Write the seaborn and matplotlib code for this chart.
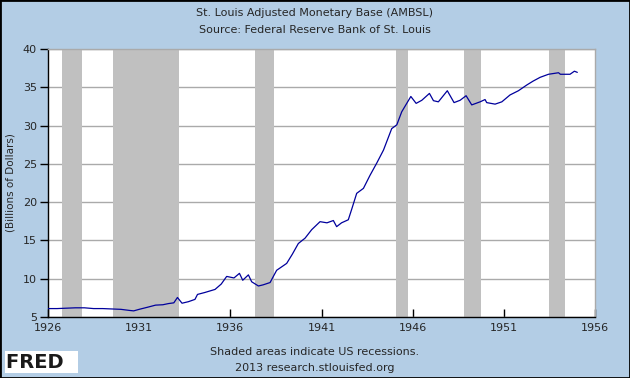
import numpy as np
import pandas as pd
import matplotlib
matplotlib.use("Agg")
import matplotlib.pyplot as plt
import seaborn as sns

# --- Données (année décimale, milliards de $) ---
annees = [1926.0, 1926.5, 1927.0, 1927.5, 1928.0, 1928.5, 1929.0, 1929.5, 1930.0, 1930.5,
          1930.7, 1931.0, 1931.5, 1931.9, 1932.3, 1932.6, 1932.9, 1933.1, 1933.35, 1933.7,
          1934.06, 1934.2, 1934.6, 1935.16, 1935.5, 1935.8, 1936.2, 1936.5, 1936.68, 1936.99,
          1937.17, 1937.54, 1937.8, 1938.18, 1938.54, 1939.09, 1939.4, 1939.73, 1940.1, 1940.46,
          1940.92, 1941.3, 1941.65, 1941.83, 1942.1, 1942.47, 1942.66, 1942.93, 1943.3, 1943.66,
          1944.03, 1944.4, 1944.85, 1945.13, 1945.4, 1945.9, 1946.19, 1946.5, 1946.92, 1947.14,
          1947.41, 1947.9, 1948.27, 1948.6, 1948.93, 1949.24, 1949.7, 1949.97, 1950.06, 1950.52,
          1950.89, 1951.34, 1951.8, 1952.26, 1952.6, 1952.99, 1953.45, 1954.0, 1954.1, 1954.63,
          1954.87, 1955.03]
ambsl = [6.1, 6.1, 6.15, 6.2, 6.2, 6.1, 6.1, 6.05, 6.0, 5.85,
         5.8, 6.0, 6.3, 6.55, 6.6, 6.75, 6.85, 7.55, 6.8, 7.0,
         7.3, 7.95, 8.2, 8.6, 9.3, 10.3, 10.1, 10.7, 9.8, 10.5,
         9.6, 9.05, 9.2, 9.5, 11.1, 12.0, 13.2, 14.6, 15.3, 16.4,
         17.45, 17.3, 17.6, 16.8, 17.3, 17.7, 19.1, 21.15, 21.8, 23.5,
         25.1, 26.8, 29.6, 30.1, 31.8, 33.8, 32.9, 33.3, 34.2, 33.25,
         33.1, 34.55, 33.0, 33.3, 33.9, 32.7, 33.1, 33.4, 33.0, 32.8,
         33.1, 34.0, 34.55, 35.3, 35.8, 36.3, 36.7, 36.9, 36.7, 36.7,
         37.1, 36.95]

# Récessions US (NBER)
recession_debut = [1926.75, 1929.58, 1937.33, 1945.08, 1948.83, 1953.5]
recession_fin = [1927.87, 1933.17, 1938.42, 1945.75, 1949.75, 1954.33]

x_ticks = [1926, 1931, 1936, 1941, 1946, 1951, 1956]
y_ticks = [5, 10, 15, 20, 25, 30, 35, 40]

df = pd.DataFrame({"annee": annees, "ambsl": ambsl})

fond = "#B3CDE5"
sns.set_style("white")
plt.rcParams["font.family"] = ["DejaVu Sans"]

fig = plt.figure(figsize=(6.3, 3.78), dpi=100, facecolor=fond)
ax = fig.add_axes([48 / 630, 61 / 378, 547 / 630, 268 / 378])
ax.set_facecolor("white")

for d, f in zip(recession_debut, recession_fin):
    ax.axvspan(d, f, color="#C0C0C0", lw=0, zorder=1)

ax.set_yticks(y_ticks)
ax.grid(axis="y", color="#AAAAAA", lw=1, zorder=0.5)
ax.set_axisbelow(True)

sns.lineplot(data=df, x="annee", y="ambsl", color="#00009C", lw=0.9, ax=ax, zorder=3)

ax.set_xlim(1926, 1956)
ax.set_ylim(5, 40)
ax.set_xticks(x_ticks)
ax.set_xticklabels([str(t) for t in x_ticks])
ax.tick_params(axis="x", direction="in", length=6, width=1, color="black",
               labelsize=8, pad=4, top=False, bottom=True)
ax.tick_params(axis="y", direction="out", length=6, width=1, color="black",
               labelsize=8, pad=2, left=True)
ax.set_xlabel("")
ax.set_ylabel("(Billions of Dollars)", fontsize=7.5)
ax.yaxis.set_label_coords(-33 / 547, 0.5)

for s in ["left", "bottom"]:
    ax.spines[s].set_color("black")
    ax.spines[s].set_linewidth(1)
for s in ["top", "right"]:
    ax.spines[s].set_color("#AAAAAA")
    ax.spines[s].set_linewidth(1)

# Titres
fig.text(0.5, 1 - 13 / 378, "St. Louis Adjusted Monetary Base (AMBSL)", ha="center", va="center", fontsize=8)
fig.text(0.5, 1 - 30 / 378, "Source: Federal Reserve Bank of St. Louis", ha="center", va="center", fontsize=8)

# Pied de page
fig.text(0.5, 1 - 352 / 378, "Shaded areas indicate US recessions.", ha="center", va="center", fontsize=8)
fig.text(0.5, 1 - 368 / 378, "2013 research.stlouisfed.org", ha="center", va="center", fontsize=8)
fig.text(6 / 630, 1 - 362 / 378, "FRED  ", ha="left", va="center", fontsize=14, fontweight="bold",
         color="#1A1A1A", bbox=dict(facecolor="white", edgecolor="none", pad=1.0))

# Cadre extérieur
fig.patches.append(plt.Rectangle((0, 0), 1, 1, transform=fig.transFigure, fill=False,
                                 edgecolor="black", lw=2))

fig.savefig("out.png", dpi=100, facecolor=fond)
